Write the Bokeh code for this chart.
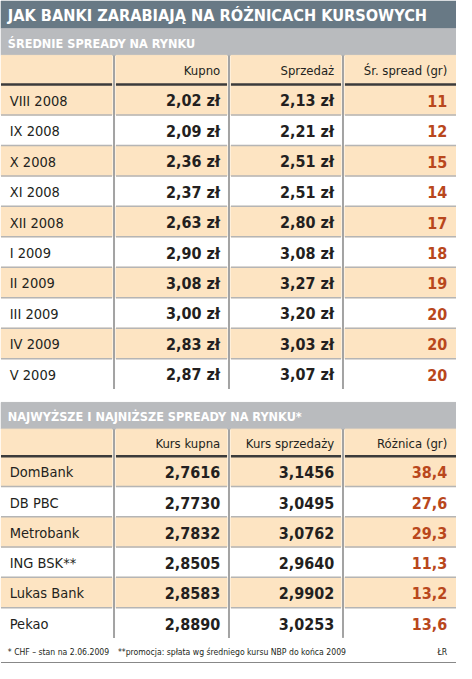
from bokeh.plotting import figure
from bokeh.models import Range1d, ColumnDataSource
from bokeh.core.properties import value
from bokeh.embed import file_html
from bokeh.resources import INLINE

# dane
title = "JAK BANKI ZARABIAJĄ NA RÓŻNICACH KURSOWYCH"
sub1 = "ŚREDNIE SPREADY NA RYNKU"
head1 = ["Kupno", "Sprzedaż", "Śr. spread (gr)"]
months = ["VIII 2008", "IX 2008", "X 2008", "XI 2008", "XII 2008",
          "I 2009", "II 2009", "III 2009", "IV 2009", "V 2009"]
kupno = [2.02, 2.09, 2.36, 2.37, 2.63, 2.90, 3.08, 3.00, 2.83, 2.87]
sprzedaz = [2.13, 2.21, 2.51, 2.51, 2.80, 3.08, 3.27, 3.20, 3.03, 3.07]
spread = [11, 12, 15, 14, 17, 18, 19, 20, 20, 20]

sub2 = "NAJWYŻSZE I NAJNIŻSZE SPREADY NA RYNKU*"
head2 = ["Kurs kupna", "Kurs sprzedaży", "Różnica (gr)"]
banks = ["DomBank", "DB PBC", "Metrobank", "ING BSK**", "Lukas Bank", "Pekao"]
kurs_kupna = [2.7616, 2.7730, 2.7832, 2.8505, 2.8583, 2.8890]
kurs_sprzedazy = [3.1456, 3.0495, 3.0762, 2.9640, 2.9902, 3.0253]
roznica = [38.4, 27.6, 29.3, 11.3, 13.2, 13.6]

notes = ["* CHF – stan na 2.06.2009",
         "**promocja: spłata wg średniego kursu NBP do końca 2009", "ŁR"]

FONT = "DejaVu Sans Condensed, Roboto, sans-serif"
DARK_BAR = "#687985"
GRAY_BAR = "#b9bbbe"
PEACH = "#fde4c2"
ORANGE = "#b9471c"
INK = "#231f20"

cols = [(3, 117), (121, 235), (239, 352), (356, 470)]
vlines = [119, 237, 354]
right_x = [228, 345, 461]

p = figure(width=456, height=663, output_backend="svg", toolbar_location=None,
           x_range=Range1d(2.5, 470.5), y_range=Range1d(674, 3.5), min_border=0)
p.axis.visible = False
p.grid.visible = False
p.outline_line_color = None


def txt(x, y, s, size, color=INK, align="left", style="normal"):
    p.text(x=[x], y=[y], text=[s], text_font=value(FONT), text_font_size=size,
           text_color=color, text_align=align, text_baseline="middle",
           text_font_style=style)


def table(bar_top, head_top, head_bot, row_h, labels, c1, c2, c3, heads, sub):
    # pasek z podtytułem
    p.quad(left=[3], right=[470], top=[bar_top], bottom=[head_top], color=GRAY_BAR)
    txt(10, (bar_top + head_top) / 2 + 1, sub, "12.6px", "white", style="bold")
    n = len(labels)
    bottom = head_bot + n * row_h
    # nagłówek
    p.quad(left=[c[0] for c in cols], right=[c[1] for c in cols],
           top=[head_top] * 4, bottom=[head_bot] * 4, color=PEACH)
    for h, x in zip(heads, right_x):
        txt(x, (head_top + head_bot) / 2 + 1, h, "13px", align="right")
    # wiersze
    tops = [head_bot + i * row_h for i in range(n)]
    src = ColumnDataSource(dict(
        top=[t for i, t in enumerate(tops) if i % 2 == 0],
        bottom=[t + row_h for i, t in enumerate(tops) if i % 2 == 0]))
    for l, r in cols:
        p.quad(left=l, right=r, top="top", bottom="bottom", source=src, color=PEACH)
    for t in tops[1:]:
        p.segment(x0=[c[0] for c in cols], x1=[c[1] for c in cols],
                  y0=[t] * 4, y1=[t] * 4, line_color="#b5b5b5", line_width=1.5)
    p.segment(x0=[c[0] for c in cols], x1=[c[1] for c in cols],
              y0=[head_bot] * 4, y1=[head_bot] * 4, line_color="#3b3b3b", line_width=2.5)
    p.segment(x0=vlines, x1=vlines, y0=[head_top] * 3, y1=[bottom] * 3,
              line_color="#a3a3a3", line_width=2)
    mids = [t + row_h / 2 + 1 for t in tops]
    p.text(x=[12] * n, y=mids, text=labels, text_font=value(FONT),
           text_font_size="14.5px", text_color=INK, text_baseline="middle")
    for vals, x, color in zip([c1, c2, c3], right_x, [INK, INK, ORANGE]):
        p.text(x=[x] * n, y=mids, text=vals, text_font=value(FONT),
               text_font_size="16px", text_font_style="bold", text_color=color,
               text_align="right", text_baseline="middle")


# tytuł
p.quad(left=[3], right=[470], top=[4], bottom=[32], color=DARK_BAR)
txt(10, 19, title, "16.2px", "white", style="bold")

table(32, 59, 88.5, 30.8, months,
      [f"{v:.2f} zł".replace(".", ",") for v in kupno],
      [f"{v:.2f} zł".replace(".", ",") for v in sprzedaz],
      [str(v) for v in spread], head1, sub1)

table(410, 437, 464.5, 30.6, banks,
      [f"{v:.4f}".replace(".", ",") for v in kurs_kupna],
      [f"{v:.4f}".replace(".", ",") for v in kurs_sprzedazy],
      [f"{v:.1f}".replace(".", ",") for v in roznica], head2, sub2)

txt(10, 662, notes[0], "8.6px")
txt(123, 662, notes[1], "8.6px")
txt(461, 662, notes[2], "8.6px", align="right")
p.segment(x0=[3], x1=[470], y0=[673], y1=[673], line_color="#888888", line_width=1)

open("out.html", "w").write(file_html(p, INLINE))
